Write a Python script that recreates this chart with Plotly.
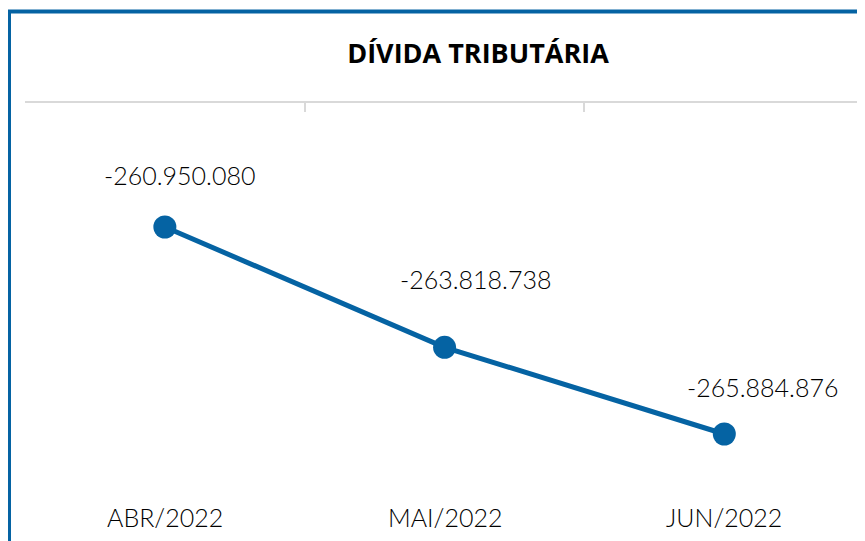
import plotly.graph_objects as go

# ---- data ----
categories = ["ABR/2022", "MAI/2022", "JUN/2022"]
values = [-260950080, -263818738, -265884876]
title_text = "DÍVIDA TRIBUTÁRIA"

# ---- styles ----
BLUE = "#0563a3"
GRID = "#d9d9d9"
label_font = dict(family="Lato", size=25, color="#000000", weight=300)
label_xshift = [15, 31, 38]
label_yshift = [52, 68, 47]

# page body has an 8px margin; size the figure to fit the window
W, H = 857, 533
L, R, T, B = 17, 0, 95, 46
PW, PH = W - L - R, H - T - B

def fmt(v):
    return f"{v:,}".replace(",", ".")

fig = go.Figure()
fig.add_trace(go.Scatter(
    x=categories, y=values, mode="lines+markers",
    line=dict(color=BLUE, width=5),
    marker=dict(color=BLUE, size=23),
    cliponaxis=False, hoverinfo="skip", showlegend=False,
))

annotations = []
for c, v, dx, dy in zip(categories, values, label_xshift, label_yshift):
    annotations.append(dict(
        x=c, y=v, xref="x", yref="y", text=fmt(v), showarrow=False,
        xanchor="center", yanchor="middle", xshift=dx, yshift=dy,
        font=label_font,
    ))
for c in categories:
    annotations.append(dict(
        x=c, y=0, xref="x", yref="paper", text=c, showarrow=False,
        xanchor="center", yanchor="middle", yshift=-22,
        font=label_font,
    ))

fig.update_layout(
    width=W, height=H,
    margin=dict(l=L, r=R, t=T, b=B, pad=0),
    paper_bgcolor="white", plot_bgcolor="white",
    title=dict(
        text=f"<b>{title_text}</b>", x=470 / W, y=1 - 46 / H,
        xanchor="center", yanchor="middle", xref="container", yref="container",
        font=dict(family="Open Sans", size=27, color="#000000"),
    ),
    xaxis=dict(
        type="category", side="top", range=[-0.5, 2.503],
        showline=True, linecolor=GRID, linewidth=2,
        ticks="inside", tickson="boundaries", ticklen=9, tickwidth=2, tickcolor=GRID,
        showticklabels=False, showgrid=False, zeroline=False,
    ),
    yaxis=dict(
        range=[-267339000, -257994000], visible=False, showgrid=False, zeroline=False,
    ),
    annotations=annotations,
    shapes=[dict(
        type="rect", xref="paper", yref="paper",
        x0=(1 - L) / PW, x1=1.2, y0=-0.5, y1=(T + PH - 3.5) / PH,
        line=dict(color=BLUE, width=4), fillcolor="rgba(0,0,0,0)", layer="above",
    )],
)

fig.write_html("out.html")
